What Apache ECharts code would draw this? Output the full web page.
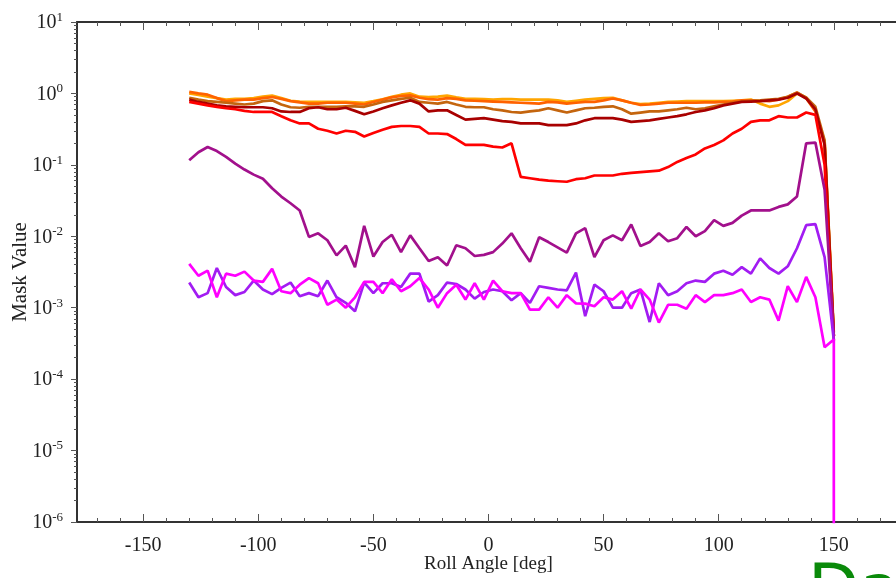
<!DOCTYPE html>
<html>
<head>
<meta charset="utf-8">
<script src="https://cdn.jsdelivr.net/npm/echarts@6/dist/echarts.min.js"></script>
<style>
html,body{margin:0;padding:0;background:#fff;}
#chart{width:896px;height:578px;}
</style>
</head>
<body>
<div id="chart"></div>
<script>
const angles = [-130,-126,-122,-118,-114,-110,-106,-102,-98,-94,-90,-86,-82,-78,-74,-70,-66,-62,-58,-54,-50,-46,-42,-38,-34,-30,-26,-22,-18,-14,-10,-6,-2,2,6,10,14,18,22,26,30,34,38,42,46,50,54,58,62,66,70,74,78,82,86,90,94,98,102,106,110,114,118,122,126,130,134,138,142,146,150];

const orange = [1.0,0.95,0.9,0.86,0.82,0.84,0.84,0.86,0.9,0.93,
0.86,0.79,0.77,0.76,0.76,0.76,0.76,0.76,0.75,0.74,
0.78,0.83,0.9,0.96,1.0,0.9,0.89,0.9,0.93,0.88,
0.84,0.84,0.83,0.82,0.83,0.83,0.82,0.82,0.82,0.82,
0.8,0.76,0.79,0.82,0.84,0.86,0.87,0.8,0.74,0.71,
0.72,0.74,0.76,0.77,0.78,0.78,0.78,0.78,0.78,0.79,
0.8,0.82,0.72,0.65,0.68,0.78,1.0,0.87,0.58,0.21,0.0004];

const orangeRed = [1.05,1.0,0.96,0.86,0.78,0.8,0.82,0.82,0.86,0.89,
0.84,0.78,0.75,0.72,0.72,0.74,0.74,0.74,0.72,0.70,
0.76,0.82,0.88,0.92,0.94,0.87,0.83,0.82,0.86,0.84,
0.80,0.79,0.78,0.77,0.76,0.75,0.74,0.73,0.72,0.76,
0.75,0.72,0.74,0.76,0.76,0.8,0.85,0.8,0.74,0.69,
0.7,0.72,0.74,0.74,0.74,0.74,0.75,0.75,0.76,0.77,
0.8,0.8,0.79,0.78,0.82,0.9,1.03,0.86,0.56,0.2,0.0004];

const brown = [0.87,0.82,0.78,0.76,0.74,0.72,0.70,0.72,0.78,0.80,
0.7,0.64,0.63,0.65,0.65,0.65,0.65,0.66,0.66,0.65,
0.7,0.76,0.8,0.84,0.87,0.76,0.74,0.72,0.76,0.7,
0.65,0.64,0.64,0.6,0.58,0.55,0.54,0.56,0.58,0.62,
0.58,0.54,0.58,0.62,0.63,0.65,0.66,0.6,0.52,0.54,
0.56,0.56,0.58,0.6,0.63,0.6,0.62,0.66,0.7,0.74,
0.77,0.79,0.8,0.82,0.84,0.9,1.02,0.88,0.65,0.22,0.00045];

const darkRed = [0.82,0.76,0.72,0.68,0.66,0.65,0.64,0.64,0.64,0.62,
0.56,0.55,0.55,0.62,0.64,0.6,0.6,0.63,0.57,0.51,
0.56,0.62,0.68,0.74,0.8,0.72,0.56,0.58,0.58,0.5,
0.43,0.44,0.45,0.43,0.41,0.4,0.38,0.38,0.38,0.36,
0.36,0.36,0.38,0.42,0.45,0.45,0.45,0.43,0.4,0.41,
0.42,0.44,0.46,0.48,0.51,0.55,0.58,0.62,0.68,0.72,
0.76,0.77,0.78,0.8,0.82,0.87,1.0,0.85,0.6,0.19,0.0004];

const red = [0.76,0.72,0.68,0.65,0.62,0.6,0.57,0.55,0.55,0.55,
0.48,0.42,0.38,0.38,0.32,0.30,0.275,0.30,0.29,0.25,
0.28,0.31,0.34,0.35,0.35,0.34,0.275,0.275,0.27,0.23,
0.19,0.19,0.19,0.18,0.175,0.2,0.068,0.065,0.062,0.06,
0.059,0.058,0.063,0.065,0.071,0.071,0.071,0.075,0.077,0.079,
0.081,0.083,0.093,0.11,0.125,0.14,0.17,0.19,0.22,0.275,
0.32,0.4,0.42,0.42,0.48,0.46,0.46,0.54,0.5,0.1,0.00035];

const purple = [0.116,0.15,0.178,0.156,0.129,0.104,0.086,0.073,0.064,0.047,
0.036,0.029,0.023,0.0098,0.011,0.0088,0.0054,0.0074,0.0037,0.014,
0.0052,0.0083,0.0105,0.006,0.0103,0.0068,0.0045,0.0051,0.0039,0.0075,
0.0068,0.0053,0.0055,0.006,0.0079,0.011,0.0068,0.0044,0.0097,0.0083,
0.0070,0.0059,0.011,0.013,0.0051,0.0088,0.0103,0.0088,0.0146,0.0073,
0.0083,0.011,0.0085,0.0094,0.0135,0.010,0.0118,0.0168,0.014,0.0154,
0.0195,0.023,0.023,0.023,0.0258,0.028,0.036,0.2,0.205,0.045,0.0004];

const violet = [0.00225,0.0014,0.0016,0.0036,0.00195,0.0015,0.00166,0.0024,0.0018,0.00155,
0.0019,0.00225,0.00145,0.0016,0.00145,0.0024,0.0014,0.00117,0.00089,0.00225,
0.0016,0.0022,0.0022,0.00195,0.003,0.003,0.00122,0.0015,0.00225,0.00215,
0.0018,0.00134,0.00166,0.0018,0.0017,0.00127,0.0016,0.00117,0.002,0.0019,
0.0018,0.00175,0.0031,0.00076,0.0021,0.0017,0.001,0.001,0.0016,0.0018,
0.00063,0.0022,0.0015,0.0017,0.0022,0.0024,0.0023,0.003,0.0033,0.0029,
0.0037,0.003,0.0049,0.0036,0.003,0.0038,0.0068,0.0143,0.0148,0.0051,0.00035];

const magenta = [0.0041,0.0028,0.0033,0.0014,0.003,0.0028,0.0032,0.0024,0.0023,0.0035,
0.0017,0.0016,0.0021,0.0026,0.0022,0.0011,0.0013,0.001,0.0014,0.0023,
0.0023,0.0016,0.0025,0.0017,0.002,0.0026,0.0018,0.001,0.0016,0.0021,
0.0013,0.0022,0.0013,0.0024,0.0017,0.0016,0.0016,0.00094,0.00094,0.0014,
0.001,0.0015,0.00115,0.00114,0.00105,0.0014,0.0013,0.0017,0.00097,0.0018,
0.0013,0.00062,0.0011,0.0011,0.00097,0.0015,0.0012,0.0015,0.0015,0.0016,
0.0018,0.0012,0.0014,0.0013,0.00066,0.002,0.0012,0.0027,0.0014,0.00028,0.00036];
const magentaCutoff = [150, 1e-8];

const xMajorTicks = [-150,-100,-50,0,50,100,150];
const xMinorTicks = [-170,-160,-140,-130,-120,-110,-90,-80,-70,-60,-40,-30,-20,-10,10,20,30,40,60,70,80,90,110,120,130,140,160,170];
const yDecades = [-6,-5,-4,-3,-2,-1,0,1];

const xName = 'Roll Angle [deg]';
const yName = 'Mask Value';
const cornerText = 'Data';

const serif = '"Liberation Serif", "Times New Roman", serif';
const axisColor = '#333';

// minor log ticks (2..9 times each decade), in log10 units
const yMinor = [];
yDecades.slice(0, -1).forEach(d => { for (let k = 2; k <= 9; k++) yMinor.push(d + Math.log10(k)); });

const seriesDefs = [
  {name: 'orange', data: orange, color: '#FFA500'},
  {name: 'orangeRed', data: orangeRed, color: '#FF6200'},
  {name: 'brown', data: brown, color: '#C4650E'},
  {name: 'darkRed', data: darkRed, color: '#A80000'},
  {name: 'red', data: red, color: '#FF0000'},
  {name: 'purple', data: purple, color: '#A2108C'},
  {name: 'violet', data: violet, color: '#A21CF2'},
  {name: 'magenta', data: magenta, color: '#FF00FF', tail: magentaCutoff}
];

const xCommon = {type: 'value', min: -178.75, max: 178.75, gridIndex: 0, splitLine: {show: false}, axisPointer: {show: false}};

const chart = echarts.init(document.getElementById('chart'), null, {renderer: 'canvas'});
chart.setOption({
  animation: false,
  backgroundColor: '#fff',
  grid: {left: 77, top: 22, right: -4, bottom: 56, containLabel: false, outerBoundsMode: 'none'},
  xAxis: [
    Object.assign({}, xCommon, {
      position: 'bottom',
      name: xName, nameLocation: 'middle', nameGap: 33, nameMoveOverlap: false,
      nameTextStyle: {fontFamily: serif, fontSize: 19, color: '#222'},
      axisLine: {show: true, onZero: false, lineStyle: {color: axisColor, width: 2}},
      axisTick: {show: true, inside: true, length: 8, customValues: xMajorTicks, lineStyle: {color: '#555', width: 1}},
      axisLabel: {show: true, customValues: xMajorTicks, margin: 14, fontFamily: serif, fontSize: 20, color: '#222'}
    }),
    Object.assign({}, xCommon, {
      position: 'bottom',
      axisLine: {show: false, onZero: false},
      axisTick: {show: true, inside: true, length: 4, customValues: xMinorTicks, lineStyle: {color: '#555', width: 1}},
      axisLabel: {show: false}
    }),
    Object.assign({}, xCommon, {
      position: 'top',
      axisLine: {show: true, onZero: false, lineStyle: {color: axisColor, width: 2}},
      axisTick: {show: true, inside: true, length: 8, customValues: xMajorTicks, lineStyle: {color: '#555', width: 1}},
      axisLabel: {show: false}
    }),
    Object.assign({}, xCommon, {
      position: 'top',
      axisLine: {show: false, onZero: false},
      axisTick: {show: true, inside: true, length: 4, customValues: xMinorTicks, lineStyle: {color: '#555', width: 1}},
      axisLabel: {show: false}
    })
  ],
  yAxis: [
    {
      type: 'log', logBase: 10, min: 1e-6, max: 10, splitNumber: 7, position: 'left',
      name: yName, nameLocation: 'middle', nameGap: 46, nameRotate: 90, nameMoveOverlap: false,
      nameTextStyle: {fontFamily: serif, fontSize: 21, color: '#222'},
      splitLine: {show: false},
      axisLine: {show: true, onZero: false, lineStyle: {color: axisColor, width: 2}},
      axisTick: {show: true, inside: false, length: 6, lineStyle: {color: '#555', width: 1}},
      axisLabel: {
        show: true, margin: 14,
        formatter: v => '{b|10}{s|' + Math.round(Math.log10(v)) + '}',
        rich: {
          b: {fontFamily: serif, fontSize: 20, color: '#222', verticalAlign: 'bottom', lineHeight: 22},
          s: {fontFamily: serif, fontSize: 13, color: '#222', verticalAlign: 'top', lineHeight: 22}
        }
      }
    },
    {
      type: 'value', min: -6, max: 1, position: 'left',
      splitLine: {show: false},
      axisLine: {show: false, onZero: false},
      axisTick: {show: true, inside: false, length: 3, customValues: yMinor, lineStyle: {color: '#555', width: 1}},
      axisLabel: {show: false}
    }
  ],
  graphic: [{
    type: 'text', left: 808, top: 561, silent: true,
    style: {text: cornerText, font: '67px "DejaVu Sans"', fill: '#0A8A0A'}
  }],
  series: seriesDefs.map(s => {
    const pts = angles.map((a, i) => [a, s.data[i]]);
    if (s.tail) pts.push(s.tail);
    return {
      name: s.name, type: 'line', xAxisIndex: 0, yAxisIndex: 0,
      data: pts, showSymbol: false, symbol: 'none', clip: true,
      lineStyle: {color: s.color, width: 2.7}, itemStyle: {color: s.color}
    };
  })
});
</script>
</body>
</html>
